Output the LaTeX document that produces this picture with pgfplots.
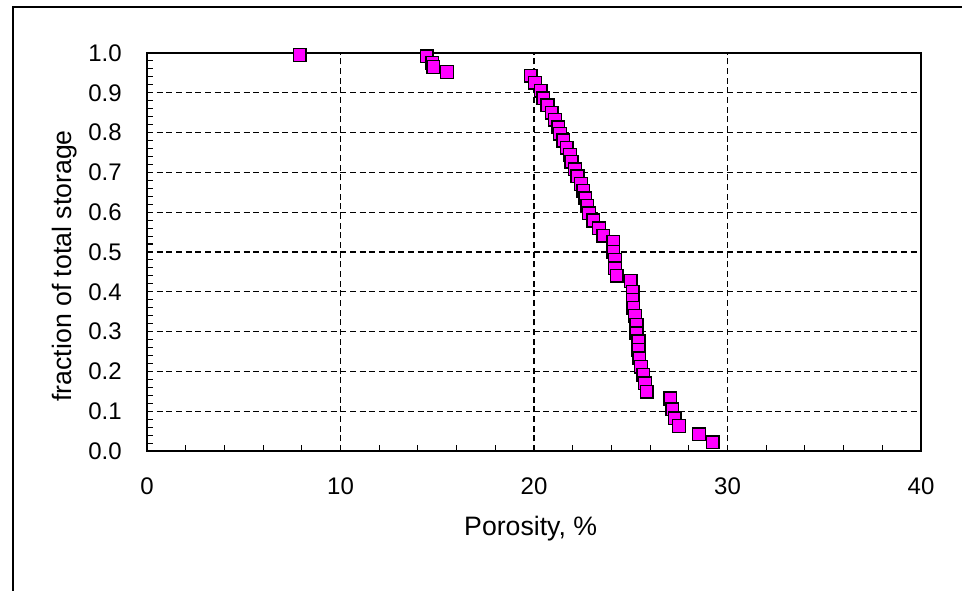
\documentclass[border=0pt]{standalone}
\usepackage{fontspec}
\setmainfont{Liberation Sans}
\usepackage{pgfplots}
\pgfplotsset{compat=1.18}

\definecolor{markfill}{RGB}{255,0,255}

\pgfplotstableread{
x      y
7.90   0.995
14.45  0.992
14.75  0.975
14.80  0.965
15.50  0.952
19.83  0.943
20.05  0.925
20.34  0.905
20.48  0.886
20.70  0.869
20.91  0.850
21.08  0.832
21.25  0.813
21.34  0.797
21.51  0.780
21.69  0.762
21.86  0.744
21.94  0.727
22.12  0.708
22.25  0.690
22.43  0.671
22.55  0.653
22.65  0.635
22.75  0.616
22.84  0.597
23.06  0.579
23.36  0.560
23.58  0.541
24.10  0.526
24.10  0.500
24.19  0.480
24.19  0.459
24.27  0.440
25.00  0.427
25.10  0.400
25.10  0.380
25.13  0.360
25.22  0.339
25.30  0.317
25.30  0.296
25.40  0.275
25.40  0.254
25.44  0.233
25.53  0.212
25.65  0.191
25.74  0.170
25.82  0.149
27.05  0.132
27.14  0.105
27.28  0.082
27.49  0.063
28.53  0.042
29.23  0.022
}\storagedata

\begin{document}
\begin{tikzpicture}
\useasboundingbox (0,0) rectangle (721.5pt,443.25pt);
% outer chart frame
\draw[line width=1pt] (9.75pt,0) -- (9.75pt,438pt) -- (721.5pt,438pt);
\begin{axis}[
  at={(110.25pt,105pt)}, anchor=south west,
  scale only axis,
  width=580.5pt, height=298.5pt,
  xmin=0, xmax=40, ymin=0, ymax=1,
  xtick={0,10,...,40}, ytick={0,0.1,...,1.0},
  minor x tick num=4, minor y tick num=4,
  tick pos=left, tick align=inside,
  major tick length=4.5pt, minor tick length=4.5pt,
  every tick/.style={black, line width=0.8pt},
  axis line style={line width=1.2pt},
  grid=major,
  major grid style={black, line width=1pt, dash pattern=on 4.5pt off 2.75pt},
  /pgf/number format/assume math mode=true,
  yticklabel={\pgfmathprintnumber[fixed,fixed zerofill,precision=1]{\tick}},
  ticklabel style={font=\fontsize{18}{20}\selectfont, inner sep=0pt},
  xticklabel style={anchor=base, yshift=-33pt},
  yticklabel style={anchor=east, xshift=-18.75pt},
  xlabel={Porosity, \%},
  ylabel={fraction of total storage},
  every axis x label/.style={at={(axis description cs:0.5,0)}, anchor=base, yshift=-63.5pt, xshift=-2.5pt, font=\fontsize{20}{22}\selectfont},
  every axis y label/.style={at={(axis description cs:-0.106,0.465)}, anchor=center, rotate=90, font=\fontsize{20}{22}\selectfont},
  clip=false,
]
\addplot[only marks, mark=square*, mark size=4.75pt,
  mark options={fill=markfill, draw=black, line width=1.1pt}]
  table[x=x, y=y] {\storagedata};
\end{axis}
\end{tikzpicture}
\end{document}
